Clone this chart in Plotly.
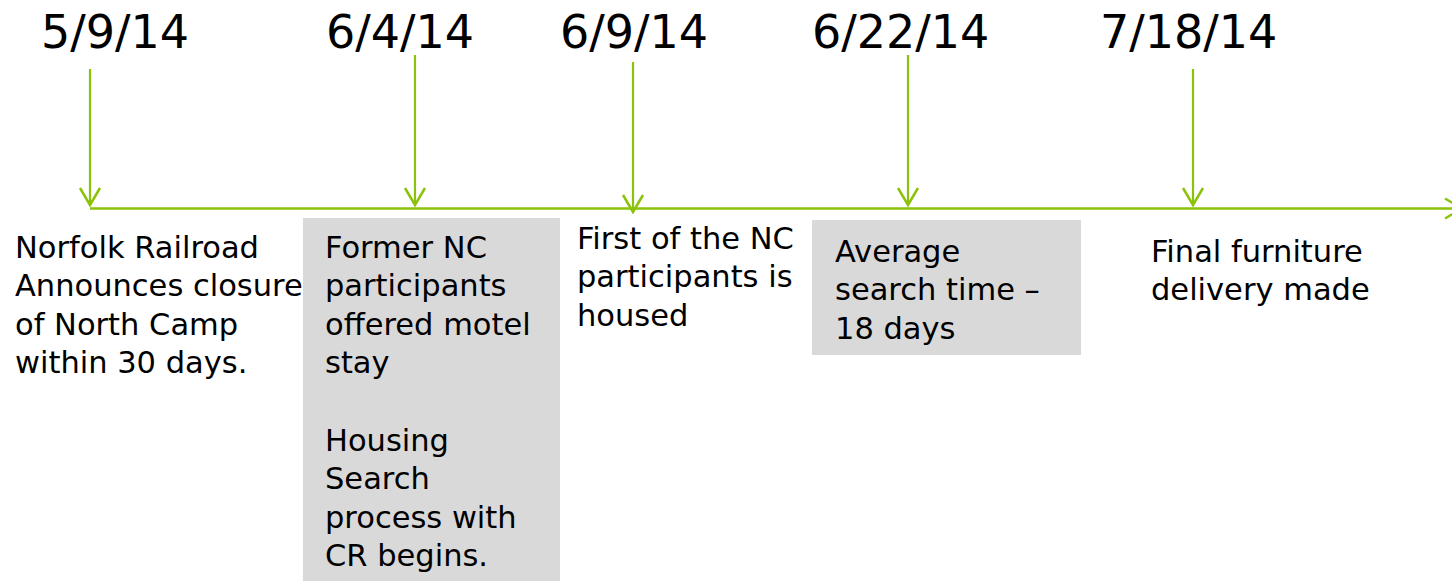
import plotly.graph_objects as go

# ---------------- data ----------------
dates = ["5/9/14", "6/4/14", "6/9/14", "6/22/14", "7/18/14"]
events = [
    ["Norfolk Railroad", "Announces closure", "of North Camp", "within 30 days."],
    ["Former NC", "participants", "offered motel", "stay", "", "Housing", "Search",
     "process with", "CR begins."],
    ["First of the NC", "participants is", "housed"],
    ["Average", "search time \u2013", "18 days"],
    ["Final furniture", "delivery made"],
]
highlighted = [False, True, False, True, False]

# ---------------- layout (pixel positions) ----------------
W, H = 1452, 581
GREEN = "#8BC20A"
GRAY = "#D9D9D9"
FONT = "DejaVu Sans"

arrow_x = [90, 415, 633, 908, 1193]
arrow_top = [69, 55, 62, 55, 69]
arrow_tip = [205, 205, 212, 205, 205]
date_cx = [115, 400, 634, 900, 1188]
date_cy = 32
text_x = [13, 323, 575, 833, 1149]
text_y0 = [247, 247, 238, 251, 251]
line_gap = 38.6
box_x0 = [None, 303, None, 812, None]
box_x1 = [None, 560, None, 1081, None]
box_y0 = [None, 218, None, 220, None]
box_y1 = [None, 600, None, 355, None]
axis_y = 208.5
axis_x0, axis_x1 = 90, 1462
head_w, head_h = 10, 17

shapes = []
annotations = []

for i, hl in enumerate(highlighted):
    if hl:
        shapes.append(dict(type="rect", xref="x", yref="y", layer="below",
                           x0=box_x0[i], x1=box_x1[i], y0=box_y0[i], y1=box_y1[i],
                           fillcolor=GRAY, line=dict(width=0)))

shapes.append(dict(type="line", xref="x", yref="y", x0=axis_x0, x1=axis_x1,
                   y0=axis_y, y1=axis_y, line=dict(color=GREEN, width=2.5)))
shapes.append(dict(type="path", xref="x", yref="y",
                   path=f"M {axis_x1-head_h} {axis_y-head_w} L {axis_x1} {axis_y} L {axis_x1-head_h} {axis_y+head_w}",
                   line=dict(color=GREEN, width=2.5)))

for i, d in enumerate(dates):
    x = arrow_x[i]
    shapes.append(dict(type="line", xref="x", yref="y", x0=x, x1=x,
                       y0=arrow_top[i], y1=arrow_tip[i], line=dict(color=GREEN, width=2.2)))
    shapes.append(dict(type="path", xref="x", yref="y",
                       path=f"M {x-head_w} {arrow_tip[i]-head_h} L {x} {arrow_tip[i]} L {x+head_w} {arrow_tip[i]-head_h}",
                       line=dict(color=GREEN, width=2.5)))
    annotations.append(dict(x=date_cx[i], y=date_cy, xref="x", yref="y", text=d,
                            showarrow=False, xanchor="center", yanchor="middle",
                            font=dict(family=FONT, size=46, color="#000000")))
    for j, line in enumerate(events[i]):
        if not line:
            continue
        annotations.append(dict(x=text_x[i], y=text_y0[i] + j * line_gap, xref="x", yref="y",
                                text=line, showarrow=False, xanchor="left", yanchor="middle",
                                font=dict(family=FONT, size=30.5, color="#000000")))

fig = go.Figure()
fig.update_layout(
    width=W, height=H,
    margin=dict(l=0, r=0, t=0, b=0, pad=0),
    paper_bgcolor="white", plot_bgcolor="white",
    xaxis=dict(range=[0, W], visible=False, fixedrange=True),
    yaxis=dict(range=[H, 0], visible=False, fixedrange=True),
    shapes=shapes, annotations=annotations, showlegend=False,
)
fig.write_html(
    "out.html",
    config={"displayModeBar": False},
    post_script="document.body.style.margin='0';document.body.style.overflow='hidden';",
)
